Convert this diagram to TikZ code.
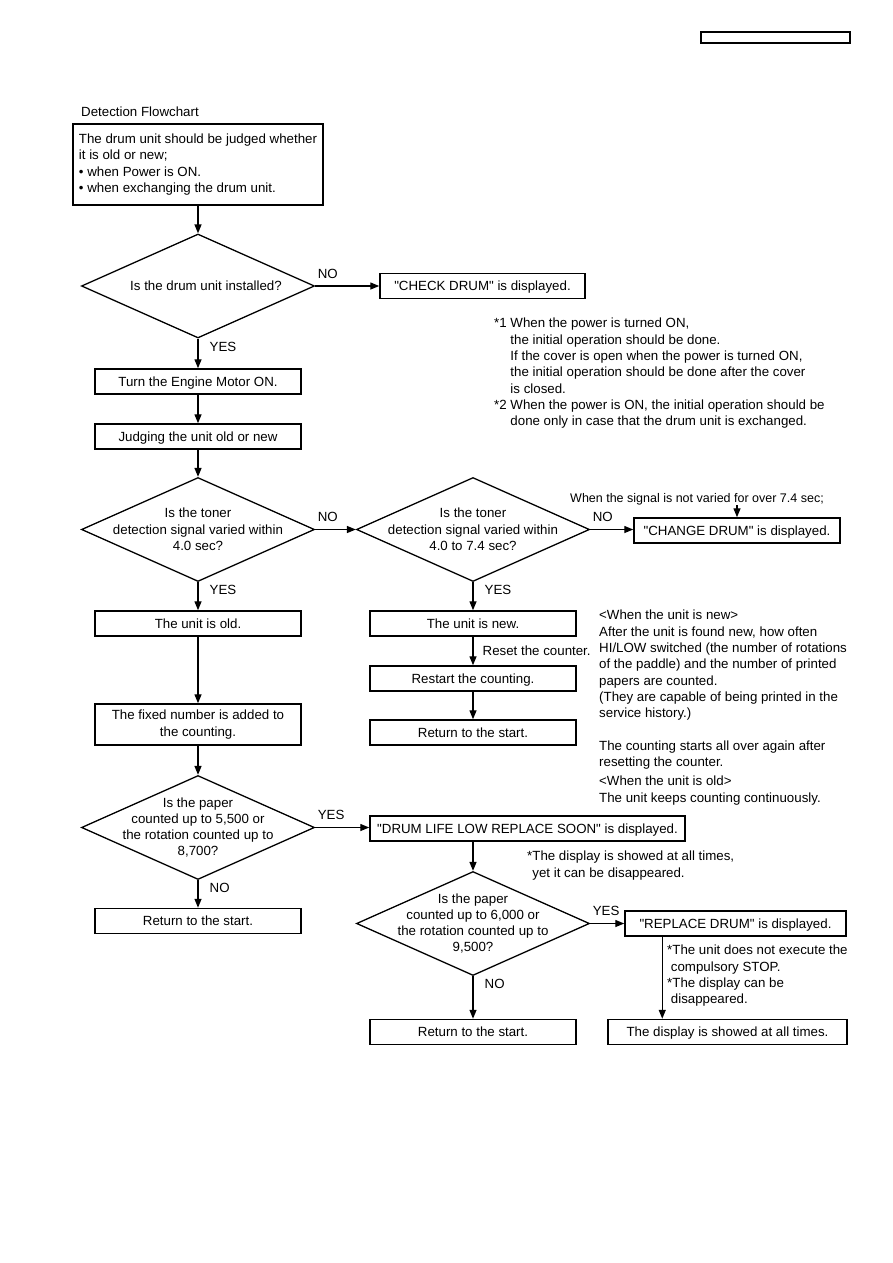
\documentclass[tikz,border=0pt]{standalone}
\usepackage{fontspec}
\setmainfont{Liberation Sans}[Ligatures=TeXOff]
\usetikzlibrary{shapes.geometric,arrows.meta,positioning}

\begin{document}
\begin{tikzpicture}[
  x=1pt, y=-1pt,
  font=\fontsize{13.3}{16.3}\selectfont,
  box/.style={rectangle, draw, line width=1.5pt, minimum width=206pt, minimum height=25pt, inner sep=2pt, text height=9.5pt, text depth=0pt},
  bigbox/.style={rectangle, draw, line width=1.5pt, minimum width=206pt, inner sep=2pt},
  decision/.style={diamond, draw, line width=1.3pt, minimum width=233pt, minimum height=104pt, inner sep=0pt},
  qtext/.style={align=center, inner sep=0pt},
  note/.style={anchor=north west, align=left, inner sep=0pt},
  arrow/.style={-{Triangle[length=9pt,width=7pt]}, line width=1.4pt},
  hlbl/.style={pos=0, anchor=west, yshift=12.5pt, inner sep=2pt},
  vlbl/.style={pos=0, anchor=west, xshift=9pt, yshift=-8pt, inner sep=2pt}
]
\useasboundingbox (0,0) rectangle (893,1263);

\node[anchor=base west, inner sep=0pt] (title) at (81,116) {Detection Flowchart};
\node[draw, line width=1.5pt, minimum width=149pt, minimum height=11pt, inner sep=0pt] (hdr) at (775.5,37.5) {};

% main column
\node[bigbox, minimum width=250pt, minimum height=81pt, align=left] (start) at (198,164.5) {The drum unit should be judged whether\\it is old or new;\\\textbullet\ when Power is ON.\\\textbullet\ when exchanging the drum unit.};
\node[decision, label={[qtext, xshift=8pt]center:Is the drum unit installed?}] (d1) at (198,286) {};
\node[box, minimum width=205pt] (check) at (482.5,286) {"CHECK DRUM" is displayed.};
\node[box] (engine) at (198,381.5) {Turn the Engine Motor ON.};
\node[box] (judge) at (198,436.5) {Judging the unit old or new};

\node[decision, label={[qtext]center:Is the toner\\detection signal varied within\\4.0 sec?}] (d2) at (198,529.5) {};
\node[decision, label={[qtext]center:Is the toner\\detection signal varied within\\4.0 to 7.4 sec?}] (d3) at (473,529.5) {};
\node[box] (change) at (737,530.5) {"CHANGE DRUM" is displayed.};
\node[inner sep=0pt, font=\fontsize{12.5}{15}\selectfont] (sig) at (697,499) {When the signal is not varied for over 7.4 sec;};

% new unit
\node[box] (new) at (473,623.5) {The unit is new.};
\node[box] (restart) at (473,678.5) {Restart the counting.};
\node[box] (ret1) at (473,732.5) {Return to the start.};

% old unit
\node[box] (old) at (198,623.5) {The unit is old.};
\node[bigbox, minimum height=41pt, align=center] (fixed) at (198,724.5) {The fixed number is added to\\the counting.};
\node[decision, label={[qtext]center:Is the paper\\counted up to 5,500 or\\the rotation counted up to\\8,700?}] (d4) at (198,827.5) {};
\node[box, minimum width=315pt] (life) at (527.5,828.5) {"DRUM LIFE LOW REPLACE SOON" is displayed.};
\node[box] (ret2) at (198,921) {Return to the start.};

\node[decision, label={[qtext]center:Is the paper\\counted up to 6,000 or\\the rotation counted up to\\9,500?}] (d5) at (473,923.5) {};
\node[box, minimum width=221pt] (replace) at (735.5,923.5) {"REPLACE DRUM" is displayed.};
\node[box] (ret3) at (473,1032) {Return to the start.};
\node[box, minimum width=239pt] (shown) at (727.5,1032) {The display is showed at all times.};

% notes
\node[note] (foot) at (494,318) {*1 When the power is turned ON,\\\hphantom{*1 }the initial operation should be done.\\\hphantom{*1 }If the cover is open when the power is turned ON,\\\hphantom{*1 }the initial operation should be done after the cover\\\hphantom{*1 }is closed.\\{}*2 When the power is ON, the initial operation should be\\\hphantom{*2 }done only in case that the drum unit is exchanged.};
\node[note] (newnote) at (599,610) {<When the unit is new>\\After the unit is found new, how often\\HI/LOW switched (the number of rotations\\of the paddle) and the number of printed\\papers are counted.\\(They are capable of being printed in the\\service history.)\\[16.3pt]The counting starts all over again after\\resetting the counter.};
\node[note] (oldnote) at (599,776) {<When the unit is old>\\The unit keeps counting continuously.};
\node[note] (lifenote) at (527,851) {*The display is showed at all times,\\\hphantom{*}yet it can be disappeared.};
\node[note] (repnote) at (667,945) {*The unit does not execute the\\\ compulsory STOP.\\{}*The display can be\\\ disappeared.};

\coordinate (rdrop) at ([xshift=38pt]replace.south west);

% connectors
\draw[arrow] (start) -- (d1);
\draw[arrow] (d1) -- node[hlbl]{NO} (check);
\draw[arrow] (d1) -- node[vlbl]{YES} (engine);
\draw[arrow] (engine) -- (judge);
\draw[arrow] (judge) -- (d2);
\draw[arrow] (d2) -- node[hlbl]{NO} (d3);
\draw[arrow] (d3.east) -- node[hlbl]{NO} (d3.east -| change.west);
\draw[arrow] (sig.south -| change.north) -- (change.north);
\draw[arrow] (d2) -- node[vlbl]{YES} (old);
\draw[arrow] (d3) -- node[vlbl]{YES} (new);
\draw[arrow] (new) -- node[right, inner sep=2pt, xshift=7pt]{Reset the counter.} (restart);
\draw[arrow] (restart) -- (ret1);
\draw[arrow] (old) -- (fixed);
\draw[arrow] (fixed) -- (d4);
\draw[arrow] (d4.east) -- node[hlbl]{YES} (d4.east -| life.west);
\draw[arrow] (d4) -- node[vlbl]{NO} (ret2);
\draw[arrow] (life.south -| d5.north) -- (d5.north);
\draw[arrow] (d5) -- node[hlbl]{YES} (replace);
\draw[arrow] (d5) -- node[vlbl]{NO} (ret3);
\draw[arrow] (rdrop) -- (rdrop |- shown.north);

\end{tikzpicture}
\end{document}
